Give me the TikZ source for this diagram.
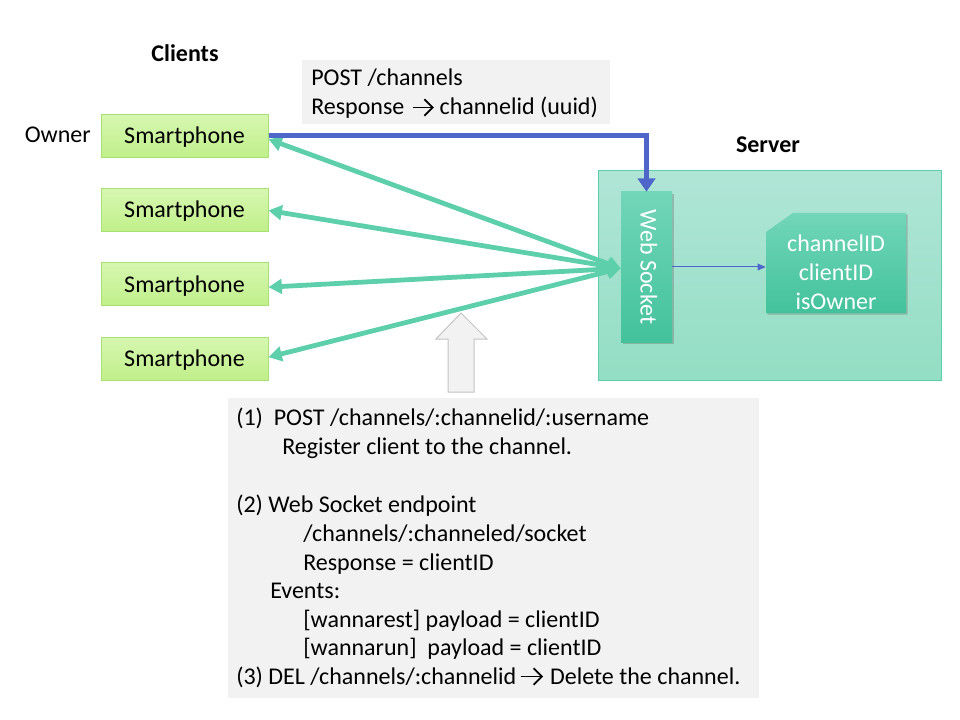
\documentclass[tikz,border=0pt]{standalone}
\usepackage{fontspec}
\setmainfont{Carlito}
\usetikzlibrary{arrows.meta,shadows}
\definecolor{phtop}{HTML}{D6F7B0}
\definecolor{phbot}{HTML}{C0EF8A}
\definecolor{phline}{HTML}{A8E074}
\definecolor{graybg}{HTML}{F2F2F2}
\definecolor{grayline}{HTML}{C4C4C4}
\definecolor{garrow}{HTML}{5DCFAB}
\definecolor{barrow}{HTML}{4E66C9}
\definecolor{srvtop}{HTML}{B0E5D6}
\definecolor{srvbot}{HTML}{93DEC4}
\definecolor{srvline}{HTML}{5CCFA8}
\definecolor{wstop}{HTML}{72D6B8}
\definecolor{wsbot}{HTML}{42C29B}
% text arrow glyph: #1 = start coordinate (on baseline), #2 = length
\newcommand{\glypharrow}[2]{%
  \draw[glyph] ([yshift=5.6pt]#1) -- ([shift={(#2-0.8pt,5.6pt)}]#1);
  \draw[glyph, line join=miter] ([shift={(#2-6.2pt,11.8pt)}]#1) -- ([shift={(#2,5.6pt)}]#1) -- ([shift={(#2-6.2pt,-0.6pt)}]#1);}
\tikzset{
  txt/.style={font=\fontsize{18}{21.6}\selectfont, inner sep=0pt},
  glyph/.style={black, line width=1.35pt},
  phone/.style={txt, minimum width=125.25pt, minimum height=32.25pt, draw=phline, line width=0.75pt, top color=phtop, bottom color=phbot, text depth=0pt, text height=11.25pt},
  greenarr/.style={draw=garrow, line width=3.6pt, {Triangle[length=10pt,width=11pt]}-{Triangle[length=10pt,width=11pt]}},
  softshadow/.style={drop shadow={shadow xshift=1.2pt, shadow yshift=-1.2pt, opacity=0.35, fill=black!60}},
}
\begin{document}
\begin{tikzpicture}[x=0.75pt,y=-0.75pt]
\useasboundingbox (0,0) rectangle (960,720);
% labels
\node[txt, font=\fontsize{18}{21.6}\selectfont\bfseries] (clients) at (185,53) {Clients};
\node[txt] (server) at (768,145) {\textbf{Server}};
% POST box
\node[fill=graybg, minimum width=231pt, minimum height=48pt] (postbox) at (456,92) {};
\node[txt, anchor=base west] (post1) at (311,86) {POST /channels};
\node[txt, anchor=base west] (post2) at (311,115) {Response};
\coordinate (pa) at ([xshift=6.5pt]post2.base east);
\glypharrow{pa}{14.5pt}
\node[txt, anchor=base west] (post3) at ([xshift=19.5pt]pa) {channelid (uuid)};
% phones
\node[phone] (p1) at (184.5,136.5) {Smartphone};
\node[phone] (p2) at (184.5,210.5) {Smartphone};
\node[phone] (p3) at (184.5,284.5) {Smartphone};
\node[phone] (p4) at (184.5,358.5) {Smartphone};
\node[txt, anchor=base east] (owner) at (91,143) {Owner};
% server box
\node[draw=srvline, line width=0.75pt, top color=srvtop, bottom color=srvbot, minimum width=257.25pt, minimum height=156.75pt] (srv) at (769.5,275.5) {};
% web socket
\node[softshadow, top color=wstop, bottom color=wsbot, minimum width=38.25pt, minimum height=112.5pt] (ws) at (646.5,267) {};
\node[txt, text=white, rotate=-90, text height=9pt, text depth=0pt] (wstext) at (ws.center) {Web Socket};
% store
\path[softshadow, top color=wstop, bottom color=wsbot] (766,232) -- (793,213) -- (906,213) -- (906,313) -- (766,313) -- cycle;
\node[txt, text=white, align=center, minimum width=105pt, minimum height=75pt, font=\fontsize{18}{21.75}\selectfont] (store) at (836,272) {channelID\\clientID\\isOwner};
% connectors
\draw[barrow, line width=0.75pt, -{Triangle[length=6pt,width=5pt]}] (ws.east) -- (store.west |- ws.east);
\draw[greenarr] ([yshift=-2pt]p1.east) -- ([yshift=-1pt]ws.west);
\draw[greenarr] (p2.east) -- ([yshift=-1pt]ws.west);
\draw[greenarr] ([yshift=-2pt]p3.east) -- ([yshift=-1pt]ws.west);
\draw[greenarr] ([yshift=1pt]p4.east) -- ([yshift=-1pt]ws.west);
\draw[barrow, line width=3.8pt, -{Triangle[length=10pt,width=13pt]}] ([yshift=1pt]p1.east) -| (ws.north);
% up arrow
\draw[fill=graybg, draw=grayline, line width=0.75pt] (461,313) -- (487,339) -- (474,339) -- (474,392) -- (448,392) -- (448,339) -- (436,339) -- cycle;
% big text box
\node[fill=graybg, minimum width=398.25pt, minimum height=225pt] (info) at (493.5,548) {};
\node[txt, anchor=base west] (l1) at (236,425) {(1)\ \ POST /channels/:channelid/:username};
\node[txt, anchor=base west] (l2) at (282,454) {Register client to the channel.};
\node[txt, anchor=base west] (l3) at (236,512) {(2) Web Socket endpoint};
\node[txt, anchor=base west] (l4) at (303,541) {/channels/:channeled/socket};
\node[txt, anchor=base west] (l5) at (303,570) {Response = clientID};
\node[txt, anchor=base west] (l6) at (270,598) {Events:};
\node[txt, anchor=base west] (l7) at (303,627) {[wannarest] payload = clientID};
\node[txt, anchor=base west] (l8) at (303,655) {[wannarun]\ \ payload = clientID};
\node[txt, anchor=base west] (l9) at (236,684) {(3) DEL /channels/:channelid};
\coordinate (la) at ([xshift=3pt]l9.base east);
\glypharrow{la}{16pt}
\node[txt, anchor=base west] (l9b) at ([xshift=22pt]la) {Delete the channel.};
\end{tikzpicture}
\end{document}
